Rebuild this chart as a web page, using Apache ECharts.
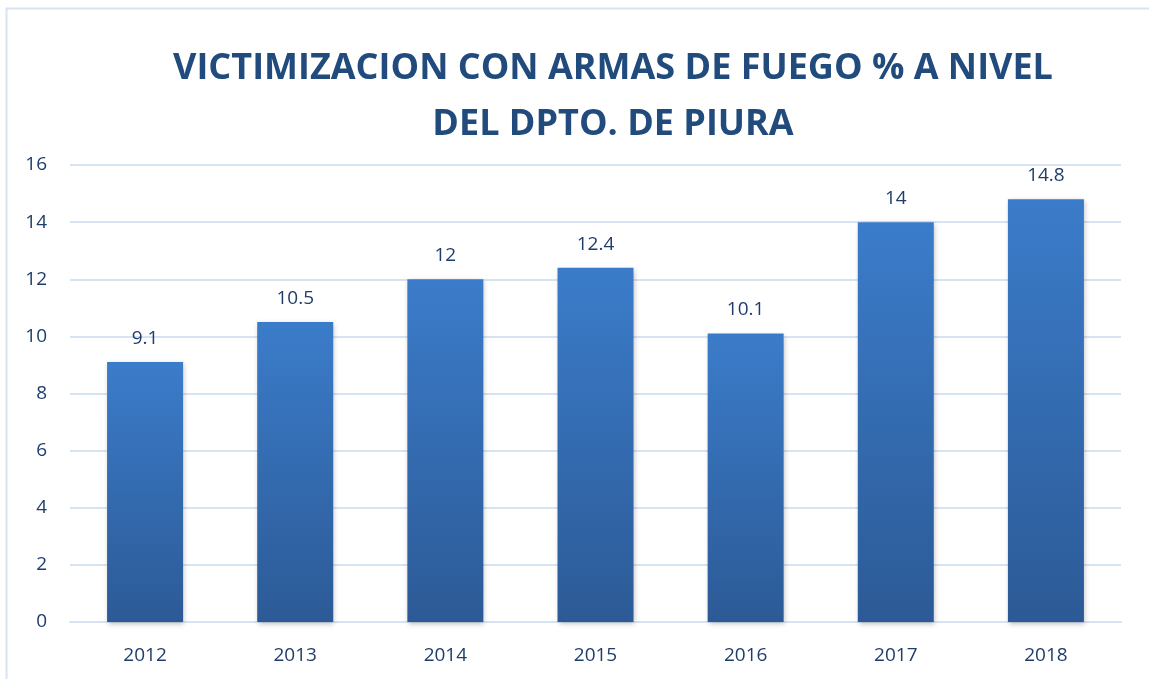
<!DOCTYPE html>
<html>
<head>
<meta charset="utf-8">
<script src="https://cdn.jsdelivr.net/npm/echarts@6/dist/echarts.min.js"></script>
<style>
  html, body { margin: 0; padding: 0; background: #fff; }
  #chart { width: 1149px; height: 679px; }
</style>
</head>
<body>
<div id="chart"></div>
<script>
// datos del grafico
var years = ['2012', '2013', '2014', '2015', '2016', '2017', '2018'];
var values = [9.1, 10.5, 12, 12.4, 10.1, 14, 14.8];
var titleLines = ['VICTIMIZACION CON ARMAS DE FUEGO % A NIVEL', 'DEL DPTO. DE PIURA'];

var chart = echarts.init(document.getElementById('chart'));

var option = {
  backgroundColor: '#fff',
  animation: false,
  title: {
    text: titleLines.join('\n'),
    left: 608,
    textAlign: 'center',
    top: 36,
    textStyle: {
      fontFamily: 'Open Sans',
      fontWeight: 'bold',
      fontSize: 36,
      lineHeight: 56,
      color: '#214b7c'
    }
  },
  graphic: [{
    type: 'rect',
    shape: { x: 6.5, y: 8.5, width: 1200, height: 700 },
    style: { fill: 'none', stroke: '#d6e3f3', lineWidth: 2 },
    silent: true
  }],
  grid: {
    left: 70,
    right: 28,
    top: 165,
    bottom: 57
  },
  xAxis: {
    type: 'category',
    data: years,
    axisTick: { show: false },
    axisLine: { lineStyle: { color: '#d6e3f3', width: 2 } },
    axisLabel: {
      margin: 24,
      fontFamily: 'Open Sans',
      fontSize: 19,
      color: '#1f3d6b'
    }
  },
  yAxis: {
    type: 'value',
    min: 0,
    max: 16,
    interval: 2,
    axisLine: { show: false },
    axisTick: { show: false },
    splitLine: { lineStyle: { color: '#d6e3f3', width: 2 } },
    axisLabel: {
      margin: 23,
      fontFamily: 'Open Sans',
      fontSize: 19,
      color: '#1f3d6b'
    }
  },
  series: [{
    type: 'bar',
    data: values,
    barWidth: 76,
    label: {
      show: true,
      position: 'top',
      distance: 14,
      fontFamily: 'Open Sans',
      fontSize: 19,
      color: '#1f3d6b'
    },
    itemStyle: {
      color: new echarts.graphic.LinearGradient(0, 0, 0, 1, [
        { offset: 0, color: '#3b7cca' },
        { offset: 1, color: '#2c5a96' }
      ]),
      shadowColor: 'rgba(0,0,0,0.25)',
      shadowBlur: 5,
      shadowOffsetX: 1,
      shadowOffsetY: 2
    }
  }]
};

chart.setOption(option);
</script>
</body>
</html>
